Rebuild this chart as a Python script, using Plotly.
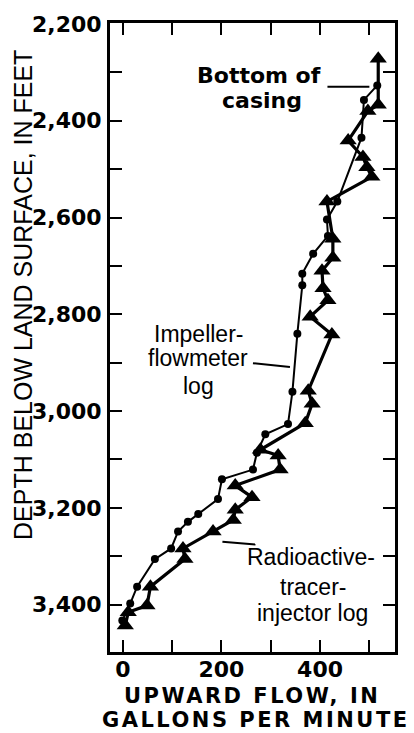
import plotly.graph_objects as go

# Impeller-flowmeter log: upward flow (gal/min) vs depth (ft)
impeller_flow = [516, 489, 484, 435, 414, 416, 386, 364, 364, 354, 344, 335, 289,
                 272, 264, 201, 193, 153, 132, 112, 98, 65, 29, 15, -1]
impeller_depth = [2327, 2357, 2435, 2567, 2604, 2638, 2675, 2716, 2740, 2840, 2960,
                  3027, 3048, 3086, 3121, 3141, 3182, 3213, 3229, 3249, 3284, 3306,
                  3363, 3398, 3433]

# Radioactive-tracer-injector log
tracer_flow = [518, 518, 497, 457, 487, 495, 505, 414, 426, 426, 404, 406, 416, 380,
               424, 376, 384, 370, 279, 315, 319, 228, 262, 228, 224, 183, 122, 126,
               56, 49, 11, 5]
tracer_depth = [2272, 2367, 2380, 2441, 2475, 2496, 2516, 2567, 2644, 2683, 2710,
                2746, 2771, 2805, 2842, 2958, 2985, 3025, 3080, 3092, 3121, 3154,
                3178, 3204, 3225, 3249, 3284, 3306, 3363, 3402, 3416, 3443]

x_ticks = [0, 100, 200, 300, 400, 500]
x_tick_labels = ["0", "", "200", "", "400", ""]
y_ticks = [2200, 2300, 2400, 2500, 2600, 2700, 2800, 2900, 3000, 3100, 3200, 3300, 3400]
y_tick_labels = ["2,200", "", "2,400", "", "2,600", "", "2,800", "", "3,000", "",
                 "3,200", "", "3,400"]

W, H = 414, 733
L, R, T, B = 110, 19, 16, 81

def px(xp):
    return (xp - L) / (W - L - R)

def py(yp):
    return (H - B - yp) / (H - B - T)

fig = go.Figure()
fig.add_trace(go.Scatter(
    x=tracer_flow, y=tracer_depth, mode="lines+markers",
    line=dict(color="black", width=3.2),
    marker=dict(symbol="triangle-up", size=15, color="black"),
    showlegend=False, hoverinfo="skip"))
fig.add_trace(go.Scatter(
    x=impeller_flow, y=impeller_depth, mode="lines+markers",
    line=dict(color="black", width=2),
    marker=dict(symbol="circle", size=8, color="black"),
    showlegend=False, hoverinfo="skip"))

tick_font = dict(family="DejaVu Sans", size=22, color="black", weight="bold")
axis_common = dict(showgrid=False, zeroline=False, showline=True, linecolor="black",
                   linewidth=3, mirror="ticks", ticks="inside", ticklen=12,
                   tickwidth=2, tickcolor="black", tickfont=tick_font)

fig.update_xaxes(range=[-26, 552], tickvals=x_ticks, ticktext=x_tick_labels,
                 ticklabelstandoff=-4, **axis_common)
fig.update_yaxes(range=[3498, 2198], tickvals=y_ticks, ticktext=y_tick_labels,
                 ticklabelstandoff=1, **axis_common)

ann = []
bold = dict(family="DejaVu Sans", size=22, color="black", weight="bold")
plain = dict(family="Liberation Sans, Arial", size=23, color="black")

def text(s, xp, yp, font, yanchor="middle", **kw):
    ann.append(dict(text=s, x=px(xp), y=py(yp), xref="paper", yref="paper",
                    showarrow=False, xanchor="center", yanchor=yanchor,
                    font=font, **kw))

def spaced(s, gap):
    return '<span style="letter-spacing:%spx">%s</span>' % (gap, s)

text("Bottom of", 259, 69, bold)
text("casing", 262, 94, bold)
text("Impeller-", 198, 330, plain)
text("flowmeter", 198, 355, plain)
text("log", 198, 383, plain)
text("Radioactive-", 311, 556, plain)
text("tracer-", 313, 586, plain)
text("injector log", 312, 613, plain)

axis_title_font = dict(family="DejaVu Sans", size=21, color="black", weight="bold")
text(spaced("UPWARD FLOW, IN", 2.5), 252, 696, axis_title_font, borderpad=0)
text(spaced("GALLONS PER MINUTE", 2.5), 256, 720.5, axis_title_font, borderpad=0)
text("DEPTH BELOW LAND SURFACE, IN FEET", 23, 291,
     dict(family="Liberation Sans, Arial", size=25, color="black"), textangle=-90)

# leader lines from the labels to the curves
leaders = [((415, 2330), (500, 2330)),
           ((264, 2901), (339, 2909)),
           ((202, 3270), (269, 3276))]
shapes = [dict(type="line", xref="x", yref="y", x0=a[0], y0=a[1], x1=b[0], y1=b[1],
               line=dict(color="black", width=2)) for a, b in leaders]

fig.update_layout(width=W, height=H, margin=dict(l=L, r=R, t=T, b=B),
                  paper_bgcolor="white", plot_bgcolor="white",
                  annotations=ann, shapes=shapes)

fig.write_html("out.html")
